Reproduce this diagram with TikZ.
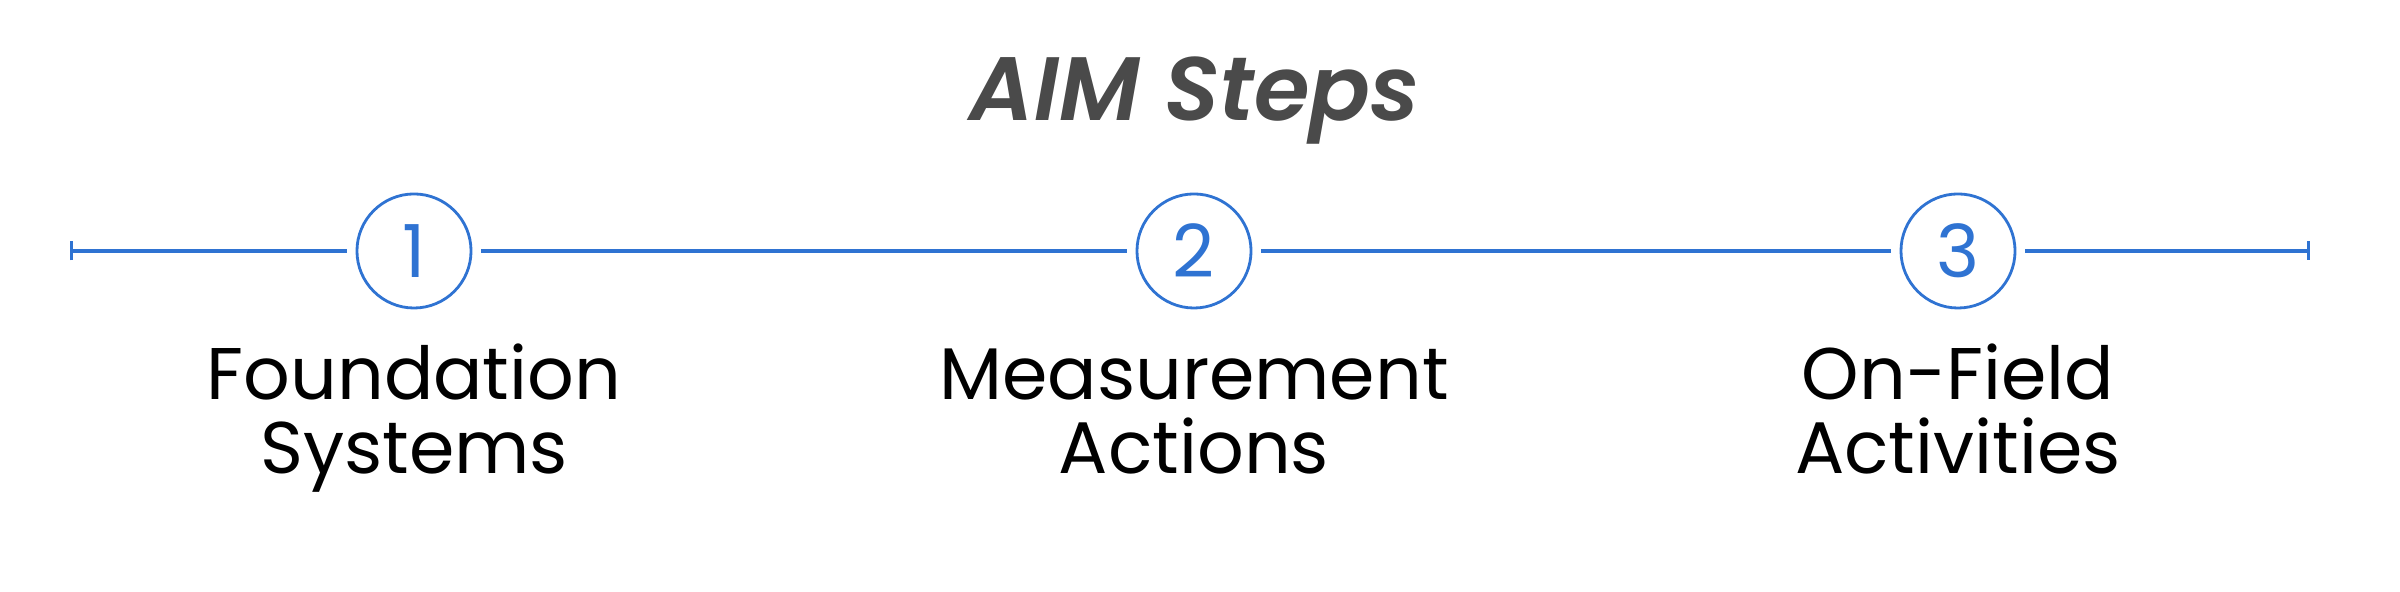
\documentclass[tikz,border=0pt]{standalone}
\usepackage{fontspec}
\setmainfont{Poppins}
\newfontfamily\titlefont{Poppins SemiBold Italic}
\usetikzlibrary{arrows.meta, positioning}
\definecolor{stepblue}{RGB}{47,115,210}
\definecolor{titlegray}{RGB}{74,74,74}

\begin{document}
\begin{tikzpicture}[
            x=0.01cm, y=0.01cm,
            stepcircle/.style={draw=stepblue, circle, line width=0.8pt, minimum size=1.14cm, inner sep=0pt, outer sep=0.1cm, text=stepblue, font=\fontsize{20.8}{21.3}\selectfont},
            steptext/.style={align=center, anchor=base, inner sep=0pt, font=\fontsize{20.8}{21.3}\selectfont},
            link/.style={stepblue, line width=0.9pt}
        ]
        \useasboundingbox (0,0) rectangle (2400,592);

        \node[anchor=base, text=titlegray, font=\fontsize{25.6}{26}\selectfont\titlefont] (title) at (1195,471) {AIM Steps};

        \coordinate (start) at (70,341);
        \coordinate (stop) at (2310,341);
        \coordinate (row) at (0,118);

        \node[stepcircle] (c1) at (414,341) {1};
        \node[stepcircle] (c2) at (1194,341) {2};
        \node[stepcircle] (c3) at (1958,341) {3};

        \node[steptext] (t1) at (c1 |- row) {Foundation\\Systems};
        \node[steptext] (t2) at (c2 |- row) {Measurement\\Actions};
        \node[steptext] (t3) at (c3 |- row) {On-Field\\Activities};

        \draw[link, {Bar[width=0.19cm]}-] (start) -- (c1);
        \draw[link] (c1) -- (c2);
        \draw[link] (c2) -- (c3);
        \draw[link, -{Bar[width=0.19cm]}] (c3) -- (stop);

        \end{tikzpicture}
\end{document}
